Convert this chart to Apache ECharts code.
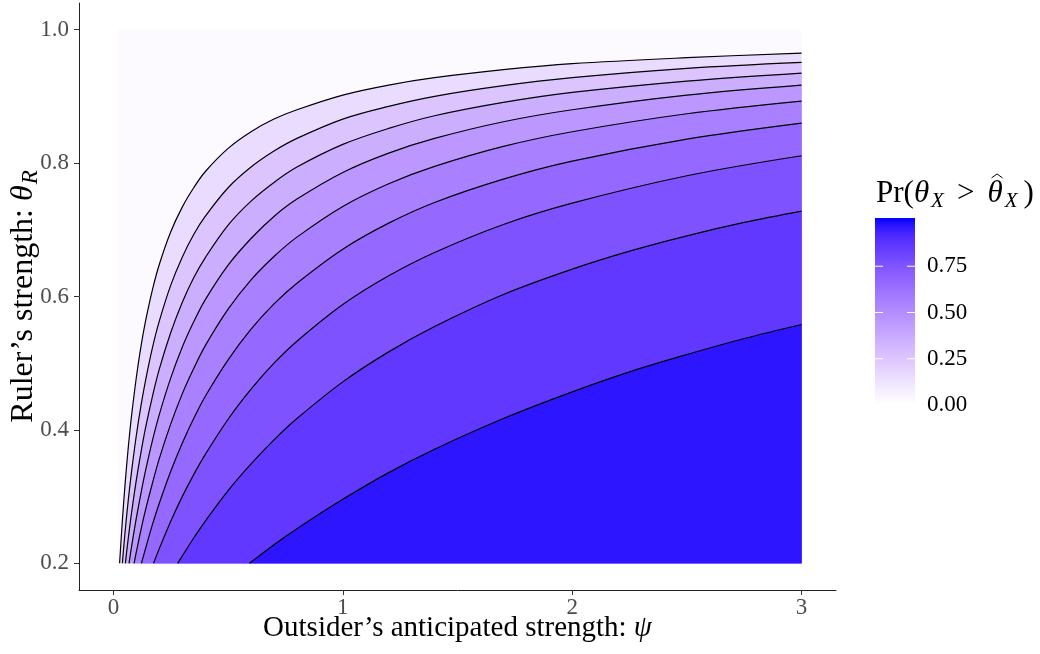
<!DOCTYPE html>
<html><head><meta charset="utf-8">
<script src="https://cdn.jsdelivr.net/npm/echarts@6.0.0/dist/echarts.min.js"></script>
<style>html,body{margin:0;padding:0;background:#fff}#c{width:1040px;height:654px}</style>
</head><body><div id="c"></div>
<script>
// ---- data ----
const contourLevels = [0.1, 0.2, 0.3, 0.4, 0.5, 0.6, 0.7, 0.8, 0.9];
const contour10 = [[0.027,0.200],[0.04,0.269],[0.05,0.315],[0.06,0.356],[0.07,0.392],[0.08,0.424],[0.1,0.479],[0.12,0.525],[0.14,0.563],[0.17,0.610],[0.2,0.648],[0.25,0.697],[0.3,0.734],[0.35,0.763],[0.4,0.787],[0.5,0.822],[0.6,0.847],[0.7,0.866],[0.8,0.880],[1.0,0.902],[1.2,0.917],[1.4,0.928],[1.7,0.940],[2.0,0.949],[2.5,0.958],[3.0,0.965]];
const contour20 = [[0.039,0.200],[0.05,0.244],[0.06,0.279],[0.07,0.311],[0.08,0.340],[0.1,0.392],[0.12,0.436],[0.14,0.474],[0.17,0.523],[0.2,0.563],[0.25,0.617],[0.3,0.659],[0.35,0.693],[0.4,0.720],[0.5,0.763],[0.6,0.794],[0.7,0.818],[0.8,0.837],[1.0,0.866],[1.2,0.885],[1.4,0.900],[1.7,0.916],[2.0,0.928],[2.5,0.942],[3.0,0.951]];
const contour30 = [[0.052,0.200],[0.06,0.224],[0.07,0.252],[0.08,0.278],[0.1,0.325],[0.12,0.366],[0.14,0.403],[0.17,0.450],[0.2,0.491],[0.25,0.546],[0.3,0.591],[0.35,0.628],[0.4,0.658],[0.5,0.707],[0.6,0.743],[0.7,0.771],[0.8,0.794],[1.0,0.828],[1.2,0.852],[1.4,0.871],[1.7,0.891],[2.0,0.906],[2.5,0.923],[3.0,0.935]];
const contour40 = [[0.068,0.200],[0.08,0.227],[0.1,0.268],[0.12,0.305],[0.14,0.339],[0.17,0.384],[0.2,0.423],[0.25,0.478],[0.3,0.524],[0.35,0.562],[0.4,0.595],[0.5,0.647],[0.6,0.687],[0.7,0.720],[0.8,0.746],[1.0,0.786],[1.2,0.815],[1.4,0.837],[1.7,0.862],[2.0,0.880],[2.5,0.902],[3.0,0.917]];
const contour50 = [[0.090,0.200],[0.1,0.217],[0.12,0.250],[0.14,0.280],[0.17,0.320],[0.2,0.357],[0.25,0.409],[0.3,0.454],[0.35,0.492],[0.4,0.526],[0.5,0.581],[0.6,0.625],[0.7,0.660],[0.8,0.689],[1.0,0.735],[1.2,0.769],[1.4,0.795],[1.7,0.825],[2.0,0.847],[2.5,0.874],[3.0,0.893]];
const contour60 = [[0.122,0.200],[0.14,0.222],[0.17,0.258],[0.2,0.290],[0.25,0.338],[0.3,0.380],[0.35,0.417],[0.4,0.450],[0.5,0.505],[0.6,0.551],[0.7,0.589],[0.8,0.620],[1.0,0.671],[1.2,0.710],[1.4,0.741],[1.7,0.776],[2.0,0.803],[2.5,0.836],[3.0,0.860]];
const contour70 = [[0.175,0.200],[0.2,0.222],[0.25,0.263],[0.3,0.300],[0.35,0.333],[0.4,0.363],[0.5,0.416],[0.6,0.461],[0.7,0.500],[0.8,0.533],[1.0,0.588],[1.2,0.631],[1.4,0.666],[1.7,0.708],[2.0,0.740],[2.5,0.781],[3.0,0.811]];
const contour80 = [[0.280,0.200],[0.3,0.211],[0.35,0.238],[0.4,0.263],[0.5,0.309],[0.6,0.349],[0.7,0.385],[0.8,0.417],[1.0,0.472],[1.2,0.517],[1.4,0.555],[1.7,0.603],[2.0,0.641],[2.25,0.668],[2.5,0.691],[2.75,0.711],[3.0,0.728]];
const contour90 = [[0.593,0.200],[0.7,0.228],[0.8,0.252],[1.0,0.296],[1.2,0.336],[1.4,0.371],[1.7,0.417],[2.0,0.457],[2.25,0.487],[2.5,0.513],[2.75,0.537],[3.0,0.558]];
const bandValues = [0.15, 0.25, 0.35, 0.45, 0.55, 0.65, 0.75, 0.85, 0.955]; // fill value below each contour
const backgroundValue = 0.02;          // fill value above the 0.1 contour
const rasterPsiRange = [0.02, 3.0];
const rasterThetaRange = [0.2, 1.0];
const xTickValues = [0, 1, 2, 3];
const yTickValues = [0.2, 0.4, 0.6, 0.8, 1.0];
const legendBreaks = [0, 0.25, 0.5, 0.75];

// ---- styling ----
const FONT = '"Liberation Serif", "Times New Roman", serif';
const colorStops = [[0,[255,255,255]],[0.125,[238,226,255]],[0.25,[220,196,255]],[0.375,[200,168,255]],[0.5,[179,139,255]],[0.625,[155,111,255]],[0.75,[126,82,255]],[0.875,[89,50,255]],[0.9375,[63,31,255]],[1,[0,0,255]]];
function fillColor(v){
  for (let i=1;i<colorStops.length;i++){
    const a=colorStops[i-1], b=colorStops[i];
    if (v<=b[0]){
      const t=(v-a[0])/(b[0]-a[0]);
      const c=a[1].map((x,k)=>Math.round(x+(b[1][k]-x)*t));
      return 'rgb('+c.join(',')+')';
    }
  }
  return 'rgb(0,0,255)';
}

const contours = [contour10, contour20, contour30, contour40, contour50, contour60, contour70, contour80, contour90];
const SMOOTH = 0.35;
const series = [];
series.push({
  type:'line', data:[[rasterPsiRange[0], rasterThetaRange[1]],[rasterPsiRange[1], rasterThetaRange[1]]],
  symbol:'none', silent:true, z:1,
  lineStyle:{opacity:0}, areaStyle:{color:fillColor(backgroundValue), opacity:1, origin:rasterThetaRange[0]}
});
contours.forEach((c,i)=>{
  series.push({type:'line', data:c, symbol:'none', smooth:SMOOTH, silent:true, z:2,
    lineStyle:{opacity:0}, areaStyle:{color:fillColor(bandValues[i]), opacity:1, origin:rasterThetaRange[0]}});
});
contours.forEach((c,i)=>{
  series.push({type:'line', name:'level '+contourLevels[i], data:c, symbol:'none', smooth:SMOOTH, silent:true, z:5,
    lineStyle:{color:'#000', width:1.2}});
});

// text measuring for composed math titles
const mctx = document.createElement('canvas').getContext('2d');
function fontStr(size, italic){ return (italic?'italic ':'') + size + 'px ' + FONT; }
function tw(t, size, italic){ mctx.font = fontStr(size, italic); return mctx.measureText(t).width; }
function layout(pieces, startX, baseline, color){
  let x = startX; const out = [];
  pieces.forEach(p=>{
    x += (p.gap||0);
    const w = tw(p.t, p.s, p.it);
    const by = baseline + (p.dy||0);
    out.push({type:'text', x:x, y:by - 0.34*p.s, silent:true,
      style:{text:p.t, font:fontStr(p.s,p.it), fill:color||'#000', align:'left', verticalAlign:'middle'}});
    if (p.hat){
      const cx = x + w/2 + 2, top = by - 0.97*p.s;
      out.push({type:'polyline', silent:true, shape:{points:[[cx-5.5,top+4],[cx,top],[cx+5.5,top+4]]},
        style:{stroke:color||'#000', lineWidth:1, fill:null}});
    }
    x += w + (p.after||0);
  });
  return {items:out, width:x-startX};
}
function totalWidth(pieces){ return pieces.reduce((s,p)=>s+(p.gap||0)+(p.after||0)+tw(p.t,p.s,p.it),0); }

const XS = 29, YS = 32, LS = 31;
const xTitle = [{t:'Outsider\u2019s anticipated strength: ', s:XS},{t:'\u03c8', s:XS, it:true}];
const yTitle = [{t:'Ruler\u2019s strength: ', s:YS},{t:'\u03b8', s:YS, it:true},{t:'R', s:23, it:true, dy:5, gap:1}];
const lTitle = [{t:'Pr(', s:LS},{t:'\u03b8', s:LS, it:true},{t:'X', s:21, it:true, dy:5, gap:2},
  {t:'>', s:LS, gap:13, after:13},{t:'\u03b8', s:LS, it:true, hat:true},{t:'X', s:21, it:true, dy:5, gap:2},{t:')', s:LS, gap:6}];

const gridL=79, gridR=204, gridT=3, gridB=64;
const panelCX = gridL + (1040-gridL-gridR)/2;
const panelCY = gridT + (654-gridT-gridB)/2;

const graphics = [];
const xw = totalWidth(xTitle);
graphics.push(...layout(xTitle, panelCX - xw/2, 638).items);
const yw = totalWidth(yTitle);
graphics.push({type:'group', x:34, y:panelCY, rotation:Math.PI/2, silent:true, children: layout(yTitle, -yw/2, 0).items});
graphics.push(...layout(lTitle, 876, 204).items);

// legend colour bar
const barX=875, barW=40, barTop=218, barBot=404;
const gStops = [];
for (let i=0;i<=20;i++){ const v=i/20; gStops.push({offset:1-v, color:fillColor(v)}); }
graphics.push({type:'rect', silent:true, shape:{x:barX,y:barTop,width:barW,height:barBot-barTop},
  style:{fill:{type:'linear',x:0,y:0,x2:0,y2:1,colorStops:gStops.reverse()}}});
function legY(v){ return barBot + 1 - v*(barBot-barTop-1); }
legendBreaks.forEach(v=>{
  const y = legY(v);
  if (v>0){
    graphics.push({type:'line', silent:true, shape:{x1:barX,y1:y,x2:barX+8,y2:y}, style:{stroke:'#fff',lineWidth:1}});
    graphics.push({type:'line', silent:true, shape:{x1:barX+barW-8,y1:y,x2:barX+barW,y2:y}, style:{stroke:'#fff',lineWidth:1}});
  }
  graphics.push({type:'text', silent:true, x:927, y:y, style:{text:v.toFixed(2), font:fontStr(23,false), fill:'#000', align:'left', verticalAlign:'middle'}});
});

const axisCommon = {
  axisLine:{show:true, onZero:false, lineStyle:{color:'#222', width:1}},
  splitLine:{show:false}
};
const chart = echarts.init(document.getElementById('c'), null, {renderer:'canvas'});
chart.setOption({
  animation:false,
  backgroundColor:'#fff',
  grid:{left:gridL, right:gridR, top:gridT, bottom:gridB, containLabel:false},
  xAxis:Object.assign({type:'value', min:-0.15, max:3.15,
    axisTick:{show:true, customValues:xTickValues, length:5, lineStyle:{color:'#333'}},
    axisLabel:{customValues:xTickValues, color:'#4D4D4D', fontSize:23, fontFamily:FONT, margin:6, formatter:v=>String(v)}
  }, axisCommon),
  yAxis:Object.assign({type:'value', min:0.16, max:1.04,
    axisTick:{show:true, customValues:yTickValues, length:5, lineStyle:{color:'#333'}},
    axisLabel:{customValues:yTickValues, color:'#4D4D4D', fontSize:23, fontFamily:FONT, margin:10, formatter:v=>v.toFixed(1)}
  }, axisCommon),
  series:series,
  graphic:graphics
});
</script></body></html>
